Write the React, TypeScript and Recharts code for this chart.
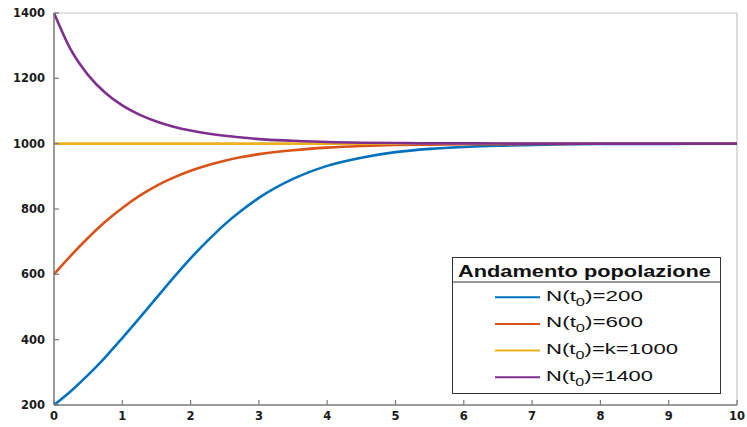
import React from 'react';
import { LineChart, Line, XAxis, YAxis, ReferenceLine, Legend } from 'recharts';

const times = [0, 0.25, 0.5, 0.75, 1, 1.25, 1.5, 1.75, 2, 2.25, 2.5, 2.75, 3, 3.5, 4, 4.5, 5, 5.5, 6, 6.5, 7, 7.5, 8, 9, 10];
const n200 = [200, 243, 292, 346, 405, 466, 528, 590, 649, 703, 753, 796, 834, 892, 932, 957, 974, 984, 990, 994, 996, 998, 999, 999.5, 1000];
const n600 = [600, 658, 712, 761, 803, 840, 871, 896, 917, 934, 948, 959, 968, 980, 988, 993, 996, 997, 998, 998.5, 999, 999.5, 1000, 1000, 1000];
const n1000 = [1000, 1000, 1000, 1000, 1000, 1000, 1000, 1000, 1000, 1000, 1000, 1000, 1000, 1000, 1000, 1000, 1000, 1000, 1000, 1000, 1000, 1000, 1000, 1000, 1000];
const n1400 = [1400, 1286, 1210, 1156, 1117, 1089, 1068, 1052, 1040, 1031, 1024, 1019, 1014, 1009, 1005, 1003, 1002, 1001, 1001, 1000.5, 1000, 1000, 1000, 1000, 1000];

const xTicks = [0, 1, 2, 3, 4, 5, 6, 7, 8, 9, 10];
const yTicks = [200, 400, 600, 800, 1000, 1200, 1400];

const legendTitle = 'Andamento popolazione';
const seriesNames = ['=200', '=600', '=k=1000', '=1400'];
const seriesColors = ['#0072BD', '#D95319', '#EDB120', '#7E2F8E'];
const seriesKeys = ['n200', 'n600', 'n1000', 'n1400'];
const labelWidths = [97, 97, 132, 107];

const data = times.map((t, i) => ({ t, n200: n200[i], n600: n600[i], n1000: n1000[i], n1400: n1400[i] }));

const tickStyle = { fontFamily: 'DejaVu Sans', fontWeight: 'bold', fontSize: 11.5, fill: '#1a1a1a' };

const LegendBox = () => (
  <svg width={269} height={137} style={{ display: 'block' }}>
    <rect x={0.5} y={0.5} width={268} height={136} fill="#fff" stroke="#333" strokeWidth={1} />
    <line x1={0} x2={269} y1={25} y2={25} stroke="#333" strokeWidth={1} />
    <text x={6} y={19.5} fontFamily="Liberation Sans, Arial" fontWeight="bold" fontSize={16.5} fill="#111" textLength={253} lengthAdjust="spacingAndGlyphs">
      {legendTitle}
    </text>
    {seriesNames.map((name, i) => {
      const base = 43.7 + i * 26.7;
      return (
        <g key={name}>
          <line x1={43} x2={88} y1={base - 3.5} y2={base - 3.5} stroke={seriesColors[i]} strokeWidth={2} />
          <text x={94} y={base} fontFamily="Liberation Sans, Arial" fontSize={15} fill="#111" textLength={labelWidths[i]} lengthAdjust="spacingAndGlyphs">
            N(t<tspan dy={5} fontSize={11}>0</tspan><tspan dy={-5}>){name}</tspan>
          </text>
        </g>
      );
    })}
  </svg>
);

export default function App() {
  return (
    <div style={{ position: 'absolute', left: 0, top: 0, width: 747, height: 427, background: '#fff' }}>
      <LineChart width={747} height={427} data={data} margin={{ top: 13, right: 10, bottom: 0, left: 0 }}>
        <XAxis
          dataKey="t"
          type="number"
          domain={[0, 10]}
          ticks={xTicks}
          interval={0}
          height={22}
          tickSize={-5}
          tickMargin={12}
          tick={tickStyle}
          axisLine={{ stroke: '#7a7a7a', strokeWidth: 1.5 }}
          tickLine={{ stroke: '#7a7a7a', strokeWidth: 1.2 }}
        />
        <YAxis
          type="number"
          domain={[200, 1400]}
          ticks={yTicks}
          interval={0}
          width={54}
          tickSize={-5}
          tickMargin={14}
          tick={tickStyle}
          axisLine={{ stroke: '#7a7a7a', strokeWidth: 1.5 }}
          tickLine={{ stroke: '#7a7a7a', strokeWidth: 1.2 }}
        />
        <ReferenceLine y={1400} stroke="#c4c4c4" strokeWidth={1.2} />
        <ReferenceLine x={10} stroke="#c4c4c4" strokeWidth={1.2} />
        {seriesKeys.map((k, i) => (
          <Line key={k} dataKey={k} type="monotone" stroke={seriesColors[i]} strokeWidth={2.6} dot={false} isAnimationActive={false} />
        ))}
        <Legend
          layout="vertical"
          align="center"
          verticalAlign="middle"
          content={() => <LegendBox />}
          wrapperStyle={{ position: 'absolute', left: 452, top: 257, width: 269, height: 137 }}
        />
      </LineChart>
    </div>
  );
}
